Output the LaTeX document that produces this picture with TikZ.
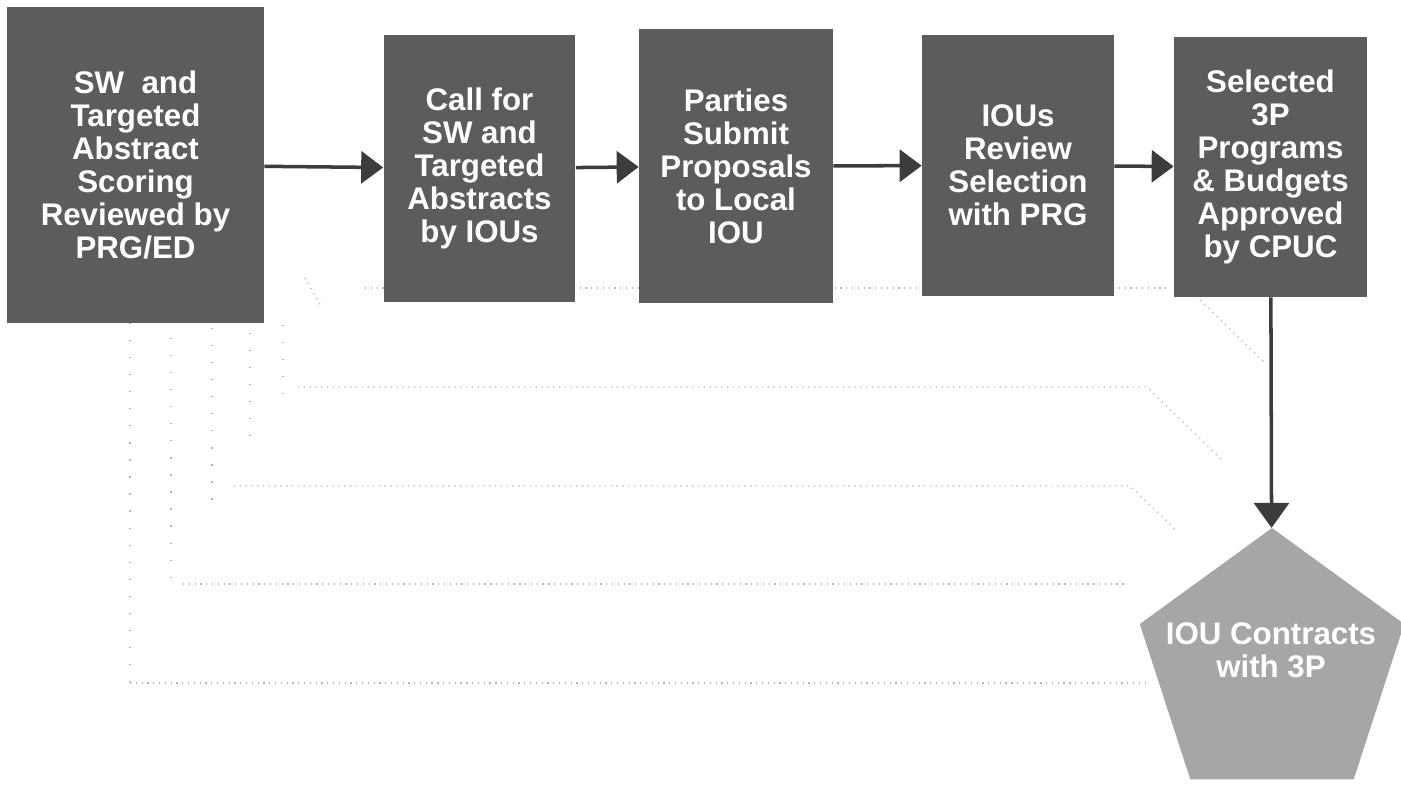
\documentclass[tikz,border=0pt]{standalone}
\usepackage{fontspec}
\setmainfont{Liberation Sans}
\usetikzlibrary{arrows.meta,shapes.geometric}
\definecolor{boxgray}{RGB}{92,92,92}
\definecolor{pentgray}{RGB}{166,166,166}
\definecolor{arrowgray}{RGB}{60,60,60}
\definecolor{guidegray}{RGB}{180,180,180}
\tikzset{
  stepbox/.style={fill=boxgray, text=white, font=\bfseries\fontsize{17.8}{18.8}\selectfont, align=center, inner sep=0pt},
  flow/.style={draw=arrowgray, line width=2pt, -{Triangle[length=4.4mm,width=6.4mm]}},
  hguide/.style={draw=guidegray, line width=0.7pt, dash pattern=on 0.7pt off 2.6pt},
  vguide/.style={draw=guidegray, line width=0.7pt, dash pattern=on 0.7pt off 9pt},
}

\begin{document}
\begin{tikzpicture}[x=0.02cm, y=-0.02cm]
\useasboundingbox (0,0) rectangle (1401,785);
\draw[hguide] (365,288) -- (1170,288);
\draw[hguide] (1200,300) -- (1265,363);
\draw[hguide] (298,387) -- (1147,387) -- (1224,462);
\draw[hguide] (234,486) -- (1130,486) -- (1176,530);
\draw[hguide] (183,584) -- (1128,584);
\draw[hguide] (130,683) -- (1150,683);
\draw[hguide] (305,278) -- (322,308);
\draw[vguide] (130,323) -- (130,683);
\draw[vguide] (171,338) -- (171,590);
\draw[vguide] (212,328) -- (212,508);
\draw[vguide] (250,333) -- (250,440);
\draw[vguide] (283,325) -- (283,397);
\node[stepbox, minimum width=5.14cm, minimum height=6.32cm] (score) at (135.5,165) {SW~ and\\Targeted\\Abstract\\Scoring\\Reviewed by\\PRG/ED};
\node[stepbox, minimum width=3.84cm, minimum height=5.34cm] (call) at (479.5,168.5) {Call for\\SW and\\Targeted\\Abstracts\\by IOUs};
\node[stepbox, minimum width=3.88cm, minimum height=5.48cm] (submit) at (736,166) {Parties\\Submit\\Proposals\\to Local\\IOU};
\node[stepbox, minimum width=3.84cm, minimum height=5.22cm] (review) at (1018,165.5) {IOUs\\Review\\Selection\\with PRG};
\node[stepbox, minimum width=3.86cm, minimum height=5.2cm] (approve) at (1270.5,167) {Selected\\3P\\Programs\\\& Budgets\\Approved\\by CPUC};
\node[regular polygon, regular polygon sides=5, minimum size=5.56cm, inner sep=0pt, fill=pentgray] (contract) at (1272,667) {};
\node[text=white, font=\bfseries\fontsize{17.8}{18.8}\selectfont, align=center] (contracttxt) at (1271,650) {IOU Contracts\\with 3P};
\draw[flow] (score) -- (call);
\draw[flow] (call) -- (submit);
\draw[flow] (submit) -- (review);
\draw[flow] (review) -- (approve);
\draw[flow, -{Triangle[length=5mm,width=7mm]}] (approve) -- (contract);
\end{tikzpicture}
\end{document}
